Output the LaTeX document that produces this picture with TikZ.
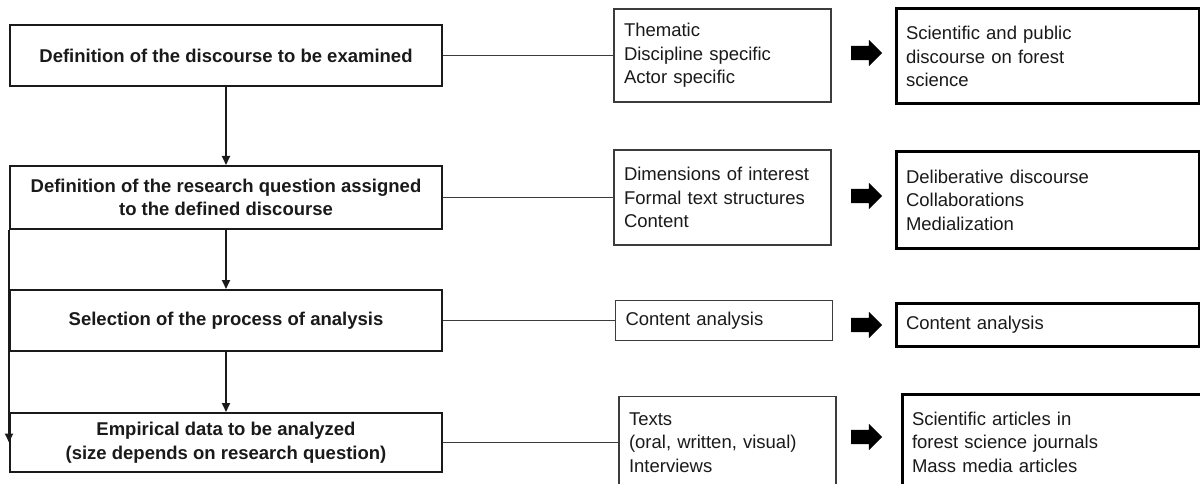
\documentclass[tikz,border=0pt]{standalone}
\usepackage{fontspec}
\setmainfont{Liberation Sans}
\usepackage{xcolor}
\definecolor{ink}{HTML}{1A1A1A}
\definecolor{rule}{HTML}{3C3C3C}
\usepackage{tikz}
\usetikzlibrary{arrows.meta,positioning,shapes.arrows}
\newcommand{\boxfont}{\fontsize{18.5}{23.5}\selectfont}
\tikzset{
  >={Triangle[length=9pt,width=8pt]},
  stagebox/.style ={draw=ink,line width=2pt,fill=white,minimum width=432pt,
                    minimum height=61pt,inner sep=4pt,align=center,
                    font=\boxfont\bfseries,text=ink},
  itembox/.style  ={draw=rule,line width=1.2pt,fill=white,text width=197pt,
                    inner xsep=10pt,inner ysep=4pt,align=left,
                    font=\boxfont,text=ink},
  resultbox/.style={draw=black,line width=3pt,fill=white,text width=283pt,
                    inner xsep=10pt,inner ysep=4pt,align=left,
                    font=\boxfont,text=ink},
  fatarrow/.style ={single arrow,fill=black,draw=none,minimum height=31pt,
                    inner sep=7pt,single arrow head extend=6pt,
                    single arrow head indent=0pt},
  flow/.style     ={->,draw=ink,line width=2pt},
  link/.style     ={draw=rule,line width=1.2pt},
}

\begin{document}
\begin{tikzpicture}[x=1pt,y=-1pt]
\useasboundingbox (0,0) rectangle (1200,484);
\clip (0,0) rectangle (1200,484);
% steps of the analysis
\node[stagebox] (s1) at (226,55.5) {Definition of the discourse to be examined};
\node[stagebox,minimum height=63pt] (s2) at (226,197.5)
  {Definition of the research question assigned\\to the defined discourse};
\node[stagebox] (s3) at (226,320.5) {Selection of the process of analysis};
\node[stagebox,minimum height=59pt] (s4) at (226,442.5)
  {Empirical data to be analyzed\\(size depends on research question)};
% possible choices
\node[itembox,minimum height=93pt] (o1) at (722.5,55.5)
  {Thematic\\Discipline specific\\Actor specific};
\node[itembox,minimum height=95pt] (o2) at (722.5,197.5)
  {Dimensions of interest\\Formal text structures\\Content};
\node[itembox,minimum height=40pt] (o3) at (724,320.5) {Content analysis};
\node[itembox,minimum height=92pt] (o4) at (727.5,442.5)
  {Texts\\(oral, written, visual)\\Interviews};
% chosen in this study
\node[resultbox,minimum height=95pt] (r1) at (1047.5,56.5)
  {Scientific and public\\discourse on forest\\science};
\node[resultbox,minimum height=96pt] (r2) at (1047.5,200)
  {Deliberative discourse\\Collaborations\\Medialization};
\node[resultbox,minimum height=43pt] (r3) at (1047.5,324.5) {Content analysis};
\node[resultbox,minimum height=96pt] (r4) at (1053.5,442)
  {Scientific articles in\\forest science journals\\Mass media articles};
\node[fatarrow] (a1) at (863,53) {};
\node[fatarrow] (a2) at (863,196) {};
\node[fatarrow] (a3) at (863,325) {};
\node[fatarrow] (a4) at (863,437) {};
% connectors
\draw[flow] (s1) -- (s2);
\draw[flow] (s2) -- (s3);
\draw[flow] (s3) -- (s4);
\draw[flow] (s2.south west) -- (s4.west);
\draw[link] (s1.east) -- (o1.west);
\draw[link] (s2.east) -- (o2.west);
\draw[link] (s3.east) -- (o3.west);
\draw[link] (s4.east) -- (o4.west);
\end{tikzpicture}
\end{document}
